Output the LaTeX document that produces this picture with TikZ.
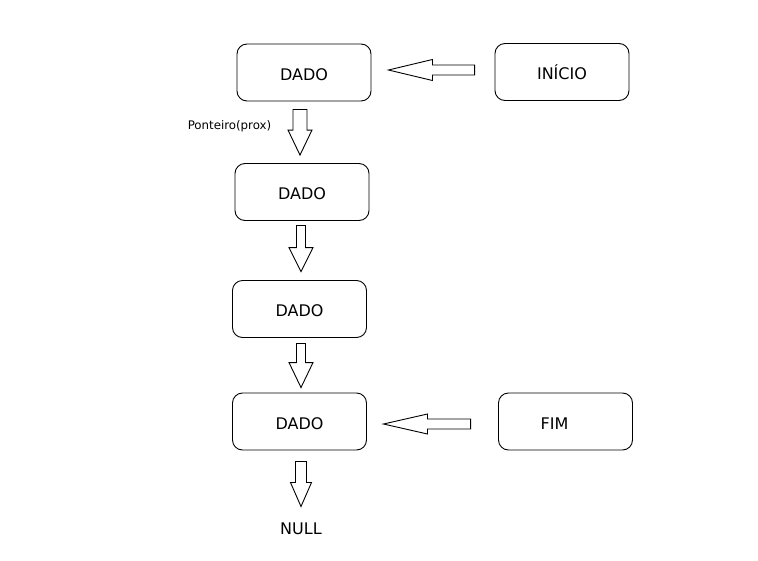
\documentclass[tikz,border=0pt]{standalone}
\usepackage{fontspec}
\setmainfont{DejaVu Sans}
\usetikzlibrary{calc}

\tikzset{
  box/.style={draw, rounded corners=10pt, minimum width=134pt, minimum height=57pt,
    font=\fontsize{16}{19}\selectfont, text height=15.5pt, text depth=0pt, line width=0.9pt},
  arrowline/.style={draw, line width=0.9pt, line join=miter},
}

% block arrow: from, to, shaft half width, head half width, head length
\newcommand{\blockarrow}[5]{%
  \coordinate (ba-h) at ($(#2)!#5!(#1)$);
  \draw[arrowline] ($(#1)!#3!90:(#2)$) -- ($(ba-h)!#3!-90:(#1)$) -- ($(ba-h)!#4!-90:(#1)$)
    -- (#2) -- ($(ba-h)!#4!90:(#1)$) -- ($(ba-h)!#3!90:(#1)$) -- ($(#1)!#3!-90:(#2)$) -- cycle;}

\begin{document}
\begin{tikzpicture}[x=1pt, y=-1pt]
\useasboundingbox (0,0) rectangle (758,560);

\node[box] (d1) at (304,72.5) {DADO};
\node[box] (ini) at (562,72) {INÍCIO};
\node[box] (d2) at (302,192) {DADO};
\node[box] (d3) at (299.5,309) {DADO};
\node[box] (d4) at (299.5,421.5) {DADO};
\node[box] (fim) at (565.5,421.5) {FIM\kern22pt};
\node[font=\fontsize{16}{19}\selectfont] (null) at (301,529) {NULL};

\coordinate (p1) at ($(d1.south)+(-4,8)$);
\coordinate (q1) at ($(d2.north)+(-2,-8)$);
\coordinate (p2) at ($(d2.south)+(-1,4.5)$);
\coordinate (q2) at ($(d3.north)+(1.5,-8.5)$);
\coordinate (p3) at ($(d3.south)+(1.5,5.5)$);
\coordinate (q3) at ($(d4.north)+(1.5,-5)$);
\coordinate (p4) at ($(d4.south)+(1.5,11)$);
\coordinate (q4) at ($(null.north)+(0,-13)$);
\coordinate (pi) at ($(ini.west)+(-20,-2)$);
\coordinate (qi) at ($(d1.east)+(17,-2.5)$);
\coordinate (pf) at ($(fim.west)+(-27.5,2.5)$);
\coordinate (qf) at ($(d4.east)+(16.5,2.5)$);

\blockarrow{p1}{q1}{7pt}{12pt}{25pt}
\blockarrow{p2}{q2}{4.5pt}{12pt}{24pt}
\blockarrow{p3}{q3}{4.5pt}{12pt}{25pt}
\blockarrow{p4}{q4}{5.5pt}{10.5pt}{24pt}
\blockarrow{pi}{qi}{5pt}{10.5pt}{44pt}
\blockarrow{pf}{qf}{5pt}{10pt}{44pt}

\node[font=\fontsize{11.8}{14}\selectfont] (lbl) at (229.5,126.5) {Ponteiro(prox)};

\end{tikzpicture}
\end{document}
